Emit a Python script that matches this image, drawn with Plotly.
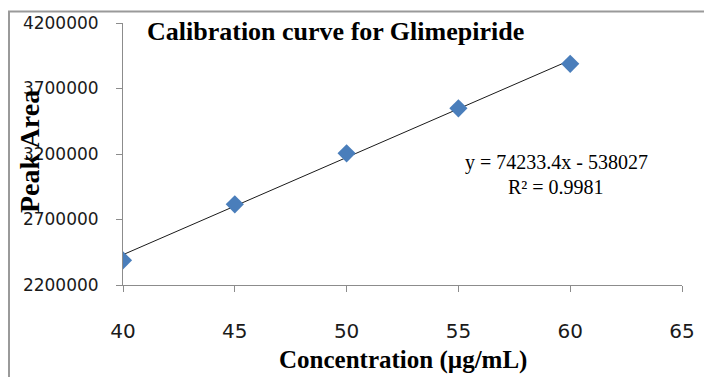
import plotly.graph_objects as go

# Data
concentration = [40, 45, 50, 55, 60]
peak_area = [2388000, 2816000, 3205000, 3549000, 3888000]
slope = 74233.4
intercept = -538027
r_squared = 0.9981
x_ticks = [40, 45, 50, 55, 60, 65]
y_ticks = [2200000, 2700000, 3200000, 3700000, 4200000]

title_text = "Calibration curve for Glimepiride"
x_title = "Concentration (µg/mL)"
y_title = "Peak Area"

trend_x = [min(concentration), max(concentration)]
trend_y = [slope * v + intercept for v in trend_x]

W, H = 704, 377
L, T = 123, 23
R = W - 682
B = H - 285
pw, ph = W - L - R, H - T - B

def px(x):
    return (x - L) / pw

def py(y):
    return (H - B - y) / ph

fig = go.Figure()
fig.add_trace(go.Scatter(x=trend_x, y=trend_y, mode="lines",
                         line=dict(color="#1a1a1a", width=1), showlegend=False, hoverinfo="skip"))
fig.add_trace(go.Scatter(x=concentration, y=peak_area, mode="markers",
                         marker=dict(symbol="diamond", size=14, color="#4a7ebb",
                                     line=dict(width=0)), showlegend=False))

axis_color = "#8c8c8c"
fig.update_xaxes(range=[40, 65], tickvals=x_ticks, ticktext=[str(v) for v in x_ticks],
                 showgrid=False, zeroline=False, showline=True, linecolor=axis_color, linewidth=1,
                 ticks="outside", ticklen=6, tickcolor=axis_color,
                 tickfont=dict(family="DejaVu Sans", size=20, color="#1a1a1a"),
                 ticklabelstandoff=22, automargin=False)
fig.update_yaxes(range=[2200000, 4200000], tickvals=y_ticks, ticktext=[str(v) for v in y_ticks],
                 showgrid=False, zeroline=False, showline=True, linecolor=axis_color, linewidth=1,
                 ticks="outside", ticklen=6, tickcolor=axis_color,
                 tickfont=dict(family="DejaVu Sans", size=17, color="#1a1a1a"),
                 ticklabelstandoff=14, automargin=False)

annotations = [
    dict(text="<b>" + title_text + "</b>", x=px(145), y=py(31), xref="paper", yref="paper",
         xanchor="left", yanchor="middle", showarrow=False,
         font=dict(family="Liberation Serif", size=26, color="#000000")),
    dict(text=f"y = {slope}x - {abs(intercept)}", x=px(556), y=py(162),
         xref="paper", yref="paper", xanchor="center", yanchor="middle", showarrow=False,
         font=dict(family="Liberation Serif", size=20, color="#000000")),
    dict(text=f"R² = {r_squared}", x=px(556), y=py(187),
         xref="paper", yref="paper", xanchor="center", yanchor="middle", showarrow=False,
         font=dict(family="Liberation Serif", size=20, color="#000000")),
    dict(text="<b>" + y_title + "</b>", x=px(29), y=py(152), xref="paper", yref="paper",
         xanchor="center", yanchor="middle", textangle=-90, showarrow=False,
         font=dict(family="Liberation Serif", size=28, color="#000000")),
    dict(text="<b>" + x_title + "</b>", x=px(403), y=py(360), xref="paper", yref="paper",
         xanchor="center", yanchor="middle", showarrow=False,
         font=dict(family="Liberation Serif", size=25, color="#000000")),
]

shapes = [
    dict(type="rect", xref="paper", yref="paper",
         x0=px(9), x1=px(730), y0=py(420), y1=py(11.5),
         line=dict(color="#9a9a9a", width=2), fillcolor="rgba(0,0,0,0)", layer="below"),
]

fig.update_layout(width=W, height=H, margin=dict(l=L, r=R, t=T, b=B),
                  paper_bgcolor="white", plot_bgcolor="white",
                  annotations=annotations, shapes=shapes, showlegend=False)

fig.write_html("out.html", config={"displayModeBar": False},
               post_script="document.body.style.margin='0px';document.body.style.overflow='hidden';")
